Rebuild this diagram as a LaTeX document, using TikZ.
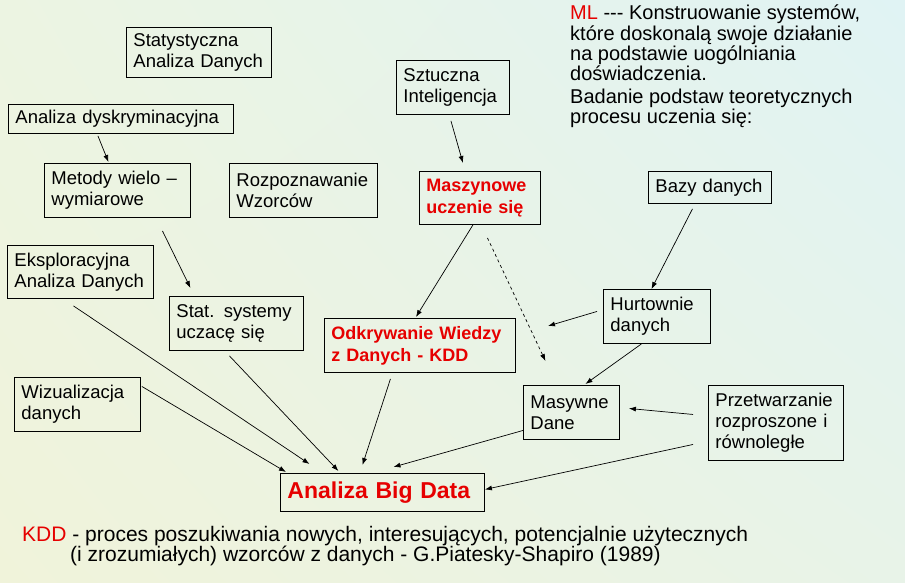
\documentclass[tikz,border=0pt]{standalone}
\usepackage{fontspec}
\setmainfont{Liberation Sans}
\usetikzlibrary{arrows.meta,shadings}
\definecolor{kddred}{RGB}{230,0,0}
\definecolor{bgll}{RGB}{240,243,218}
\definecolor{bgul}{RGB}{236,244,226}
\definecolor{bglr}{RGB}{232,243,232}
\definecolor{bgur}{RGB}{224,243,244}
\tikzset{
	box/.style={draw, line width=0.9pt, inner xsep=7pt, inner ysep=0pt, align=left, anchor=north west, font=\fontsize{18.5}{21}\selectfont},
	redbox/.style={box, text=kddred, font=\bfseries\fontsize{18}{22}\selectfont},
	arr/.style={-{Latex[length=7pt,width=5pt]}, line width=0.7pt},
	note/.style={anchor=north west, align=left, inner sep=0pt, font=\fontsize{20}{20.3}\selectfont}
}
\begin{document}
\begin{tikzpicture}[x=1pt, y=-1pt]
	\shade[lower left=bgll, upper left=bgul, lower right=bglr, upper right=bgur] (0,0) rectangle (905,582);
	
	\node[box, text width=131pt, minimum height=50pt] (sad) at (126,27) {Statystyczna\\Analiza Danych};
	\node[box, text width=99pt, minimum height=54pt] (szt) at (396,60) {Sztuczna\\Inteligencja};
	\node[box, text width=211pt, minimum height=29pt] (dys) at (8,104) {Analiza dyskryminacyjna};
	\node[box, text width=132pt, minimum height=54pt] (met) at (44,163) {Metody wielo –\\wymiarowe};
	\node[box, text width=134pt, minimum height=54pt] (roz) at (229,163) {Rozpoznawanie\\Wzorców};
	\node[redbox, text width=107pt, minimum height=53pt] (mas) at (419,171) {Maszynowe\\uczenie się};
	\node[box, text width=109pt, minimum height=32pt] (baz) at (648,171) {Bazy danych};
	\node[box, text width=132pt, minimum height=53pt] (eks) at (7,245) {Eksploracyjna\\Analiza Danych};
	\node[box, text width=120pt, minimum height=54pt] (sts) at (169,296) {Stat. systemy\\uczacę się};
	\node[redbox, text width=177pt, minimum height=54pt] (odk) at (324,318) {Odkrywanie Wiedzy\\z Danych - KDD};
	\node[box, text width=93pt, minimum height=54pt] (hur) at (603,289) {Hurtownie\\danych};
	\node[box, text width=112pt, minimum height=54pt] (wiz) at (14,377) {Wizualizacja\\danych};
	\node[box, text width=82pt, minimum height=54pt] (msy) at (523,385) {Masywne\\Dane};
	\node[box, text width=121pt, minimum height=75pt] (prz) at (708,385) {Przetwarzanie\\rozproszone i\\równoległe};
	\node[redbox, text width=190pt, minimum height=38pt, font=\bfseries\fontsize{23}{24}\selectfont] (big) at (280,473) {Analiza Big Data};
	
	\node[note] (ml) at (570,5) {\textcolor{kddred}{ML} {-}{-}{-} Konstruowanie systemów,\\które doskonalą swoje działanie\\na podstawie uogólniania\\doświadczenia.};
	\node[note] (bad) at (570,89) {Badanie podstaw teoretycznych\\procesu uczenia się:};
	\node[note, font=\fontsize{21}{20.5}\selectfont] (kdd) at (22,526) {\textcolor{kddred}{KDD} - proces poszukiwania nowych, interesujących, potencjalnie użytecznych\\\hspace*{48pt}(i zrozumiałych) wzorców z danych - G.Piatesky-Shapiro (1989)};
	
	\coordinate (hurend) at (548,326);
	
	\draw[arr] ([xshift=-23pt,yshift=-2pt]dys.south) -- ([xshift=-9pt,yshift=1pt]met.north);
	\draw[arr] ([xshift=45pt,yshift=-13pt]met.south) -- ([xshift=-46pt,yshift=8pt]sts.north);
	\draw[arr] ([xshift=-2pt,yshift=-6pt]szt.south) -- ([xshift=-17pt,yshift=8pt]mas.north);
	\draw[arr] ([xshift=-7pt]mas.south) -- ([xshift=-4pt,yshift=1pt]odk.north);
	\draw[arr, dashed] ([xshift=7.5pt,yshift=-13pt]mas.south) -- ([xshift=-26pt,yshift=24pt]msy.north);
	\draw[arr] ([xshift=-17.5pt,yshift=-5pt]baz.south) -- ([xshift=-5.5pt]hur.north);
	\draw[arr] ([xshift=-6pt,yshift=5pt]hur.west) -- (hurend);
	\draw[arr] ([xshift=-15.5pt]hur.south) -- ([xshift=14pt,yshift=1pt]msy.north);
	\draw[arr] ([xshift=-15pt,yshift=8.5pt]prz.west) -- ([xshift=9pt,yshift=4pt]msy.east);
	\draw[arr] ([xshift=-15pt,yshift=-21.5pt]prz.west) -- ([yshift=3pt]big.east);
	\draw[arr] ([yshift=-18pt]msy.west) -- ([xshift=11pt,yshift=6pt]big.north);
	\draw[arr] ([xshift=-29.5pt,yshift=-6pt]odk.south) -- ([xshift=-20pt,yshift=8pt]big.north);
	\draw[arr] ([xshift=-7pt,yshift=-5pt]sts.south) -- ([xshift=-44pt,yshift=2pt]big.north);
	\draw[arr] ([xshift=-7pt,yshift=-7pt]eks.south) -- ([xshift=-73pt,yshift=9pt]big.north);
	\draw[arr] ([xshift=1pt,yshift=18pt]wiz.east) -- ([xshift=6pt,yshift=1pt]big.north west);
\end{tikzpicture}
\end{document}
